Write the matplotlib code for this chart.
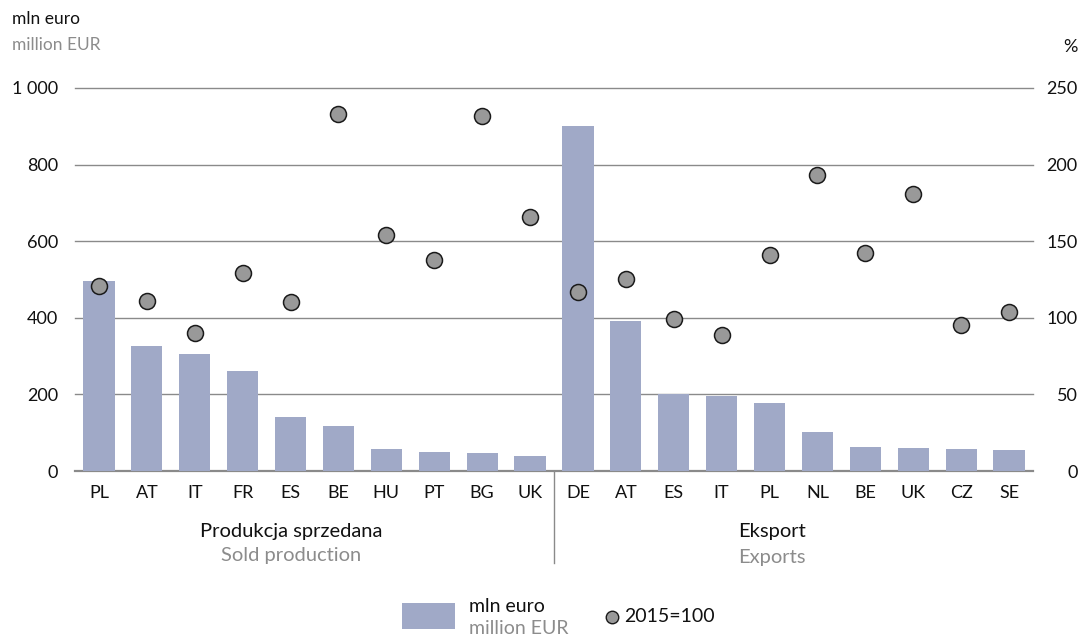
import matplotlib
matplotlib.use("Agg")
import matplotlib.pyplot as plt
from matplotlib.patches import Rectangle
from matplotlib.lines import Line2D

plt.rcParams['font.family'] = ['Lato', 'DejaVu Sans']

sold_countries = ["PL", "AT", "IT", "FR", "ES", "BE", "HU", "PT", "BG", "UK"]
sold_values = [496, 326, 305, 261, 141, 117, 57, 50, 47, 39]
sold_index = [121, 111, 90, 129, 110, 233, 154, 138, 232, 166]

export_countries = ["DE", "AT", "ES", "IT", "PL", "NL", "BE", "UK", "CZ", "SE"]
export_values = [901, 392, 200, 197, 178, 102, 63, 60, 57, 55]
export_index = [117, 125, 99, 89, 141, 193, 142, 181, 95, 104]

left_ticks = [0, 200, 400, 600, 800, 1000]
left_tick_labels = ["0", "200", "400", "600", "800", "1 000"]
right_ticks = [0, 50, 100, 150, 200, 250]

BAR = "#a0a9c7"
DOT = "#999999"
GRAY_TXT = "#8c8c8c"
GRID = "#8a8a8a"

labels = sold_countries + export_countries
values = sold_values + export_values
index = sold_index + export_index
x = list(range(len(labels)))

fig = plt.figure(figsize=(10.87, 6.37), dpi=100)
ax = fig.add_axes([75/1087, 1 - 471/637, (1033-75)/1087, (471-88)/637])
ax2 = ax.twinx()

ax.bar(x, values, width=0.65, color=BAR, zorder=2)
ax.set_xlim(-0.5, len(labels) - 0.5)
ax.set_ylim(0, 1000)
ax.set_yticks(left_ticks)
ax.set_yticklabels(left_tick_labels)
for t in left_ticks:
    ax.axhline(t, color=GRID, lw=1.0 if t > 0 else 1.6, zorder=1, clip_on=False)

ax2.set_ylim(0, 250)
ax2.set_yticks(right_ticks)
ax2.plot(x, index, 'o', ms=11.5, mfc=DOT, mec="#1a1a1a", mew=1.1, zorder=3, clip_on=False)

for a in (ax, ax2):
    for s in a.spines.values():
        s.set_visible(False)
    a.tick_params(length=0, labelsize=13, colors="#111111")
ax.tick_params(axis='y', pad=12)
ax2.tick_params(axis='y', pad=32)
for lbl in ax2.get_yticklabels():
    lbl.set_horizontalalignment('right')

ax.set_xticks(x)
ax.set_xticklabels(labels)
ax.tick_params(axis='x', pad=10)

# separator line
ax.plot([9.5, 9.5], [0, -240], color=GRID, lw=1.0, clip_on=False, zorder=1)

def fx(px):
    return px / 1087
def fy(py):
    return 1 - py / 637

fig.text(fx(291), fy(532), "Produkcja sprzedana", ha='center', va='center', fontsize=14.5, color="#111111")
fig.text(fx(291), fy(556), "Sold production", ha='center', va='center', fontsize=14.5, color=GRAY_TXT)
fig.text(fx(772), fy(532), "Eksport", ha='center', va='center', fontsize=14.5, color="#111111")
fig.text(fx(772), fy(557), "Exports", ha='center', va='center', fontsize=14.5, color=GRAY_TXT)

fig.text(fx(12), fy(19), "mln euro", ha='left', va='center', fontsize=12.5, color="#111111")
fig.text(fx(12), fy(45), "million EUR", ha='left', va='center', fontsize=12.5, color=GRAY_TXT)
fig.text(fx(1078), fy(47), "%", ha='right', va='center', fontsize=13, color="#111111")

# legend
fig.patches.append(Rectangle((fx(402), fy(629)), fx(53), (629-603)/637, transform=fig.transFigure,
                             facecolor=BAR, edgecolor='none'))
fig.text(fx(469), fy(606), "mln euro", ha='left', va='center', fontsize=14, color="#111111")
fig.text(fx(469), fy(628), "million EUR", ha='left', va='center', fontsize=14, color=GRAY_TXT)
fig.lines.append(Line2D([fx(612)], [fy(617)], transform=fig.transFigure, marker='o', ms=9,
                        mfc=DOT, mec="#1a1a1a", mew=1.0, ls='none'))
fig.text(fx(624), fy(617), "2015=100", ha='left', va='center', fontsize=14, color="#111111")

fig.savefig("out.png", dpi=100)
